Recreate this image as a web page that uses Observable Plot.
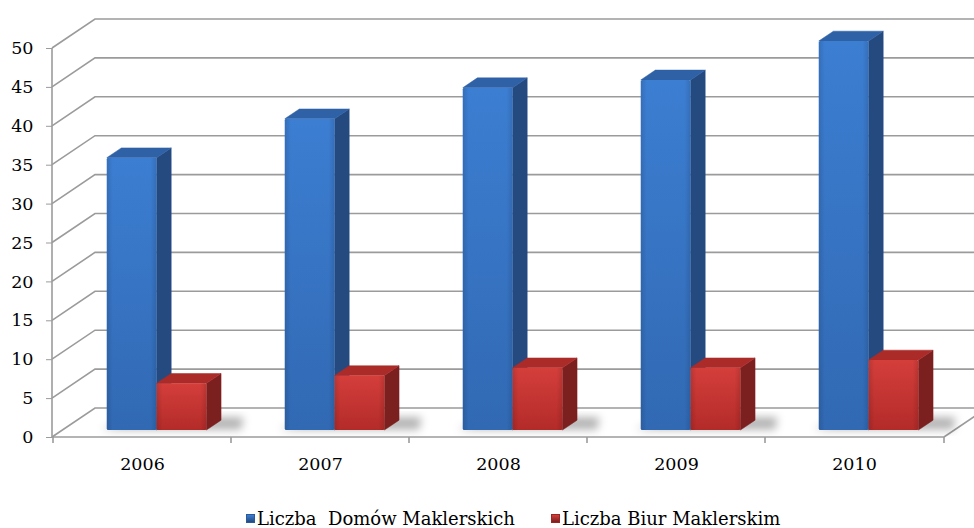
<!DOCTYPE html>
<html>
<head>
<meta charset="utf-8">
<script src="https://cdn.jsdelivr.net/npm/d3@7"></script>
<script src="https://cdn.jsdelivr.net/npm/@observablehq/plot@0.6"></script>
<style>
  html, body { margin: 0; padding: 0; background: #ffffff; }
  #chart { width: 974px; }
  #legend { display: flex; align-items: center; height: 52px; padding-left: 246px;
            font-family: "DejaVu Serif", serif; font-size: 18px; color: #000; }
  .item { display: flex; align-items: center; }
  .sw { width: 9px; height: 9px; margin-right: 2px; box-sizing: border-box; }
</style>
</head>
<body>
<div id="chart"></div>
<div id="legend"></div>
<script>
// ---- data ----
const years = ["2006", "2007", "2008", "2009", "2010"];
const domyMaklerskie = [35, 40, 44, 45, 50];
const biuraMaklerskie = [6, 7, 8, 8, 9];
const seriesNames = ["Liczba  Domów Maklerskich", "Liczba Biur Maklerskim"];
const yTicks = [0, 5, 10, 15, 20, 25, 30, 35, 40, 45, 50];

const seriesValues = [domyMaklerskie, biuraMaklerskie];
const table = [];
years.forEach((yr, i) => seriesValues.forEach((vals, s) => table.push({year: yr, series: s, value: vals[i]})));

// ---- style ----
const depthX = 43, depthY = -29;   // back-wall offset of the 3D box
const f0 = 0.24, f1 = 0.58;        // bar slab depth fractions
const barStart = 0.244, barW = 0.28; // bar placement inside the band
const colors = [
  {front: ["#3c7ed2", "#3169b3"], side: "#244a80", top: "#2e61a6", edge: "#2a5a9a"},
  {front: ["#d43e3b", "#b32b29"], side: "#7c1f1f", top: "#ab2b29", edge: "#9a2624"}
];
const gridColor = "#9b9b9b";

function scene(index, scales) {
  const x = scales.x, y = scales.y;
  const bw = x.bandwidth();
  const [xa, xb] = x.range();
  const y0 = y(0);
  const g = d3.create("svg:g");
  const defs = g.append("defs");
  colors.forEach((c, s) => {
    const lg = defs.append("linearGradient").attr("id", "front" + s).attr("x1", 0).attr("y1", 0).attr("x2", 0).attr("y2", 1);
    lg.append("stop").attr("offset", "0%").attr("stop-color", c.front[0]);
    lg.append("stop").attr("offset", "100%").attr("stop-color", c.front[1]);
    const hg = defs.append("linearGradient").attr("id", "shade" + s).attr("x1", 0).attr("y1", 0).attr("x2", 1).attr("y2", 0);
    hg.append("stop").attr("offset", "0%").attr("stop-color", "#000").attr("stop-opacity", 0.12);
    hg.append("stop").attr("offset", "12%").attr("stop-color", "#000").attr("stop-opacity", 0);
    hg.append("stop").attr("offset", "88%").attr("stop-color", "#000").attr("stop-opacity", 0);
    hg.append("stop").attr("offset", "100%").attr("stop-color", "#000").attr("stop-opacity", 0.12);
  });
  const blur = defs.append("filter").attr("id", "blur").attr("x", "-50%").attr("y", "-50%").attr("width", "200%").attr("height", "200%");
  blur.append("feGaussianBlur").attr("stdDeviation", 4);

  const P = (px, py, f) => [px + depthX * f, py + depthY * f];
  const pts = (arr) => arr.map(p => p.join(",")).join(" ");

  // walls: left-wall diagonals and back-wall gridlines
  for (const t of yTicks) {
    const yy = y(t);
    g.append("polyline").attr("points", pts([[xa, yy], P(xa, yy, 1), P(xb, yy, 1)]))
      .attr("fill", "none").attr("stroke", gridColor).attr("stroke-width", 1.6);
  }
  // floor right edge
  g.append("line").attr("x1", xb).attr("y1", y0).attr("x2", xb + depthX).attr("y2", y0 + depthY)
    .attr("stroke", gridColor).attr("stroke-width", 1.6);
  // front vertical axis line
  g.append("line").attr("x1", xa).attr("y1", y0).attr("x2", xa).attr("y2", y(d3.max(yTicks)))
    .attr("stroke", gridColor).attr("stroke-width", 1.6);
  // front floor line
  g.append("line").attr("x1", xa).attr("y1", y0).attr("x2", xb).attr("y2", y0)
    .attr("stroke", gridColor).attr("stroke-width", 1.6);
  // category boundary ticks
  const bounds = years.map(d => x(d)).concat([xb]);
  for (const bx of bounds) {
    g.append("line").attr("x1", bx).attr("y1", y0).attr("x2", bx).attr("y2", y0 + 6)
      .attr("stroke", gridColor).attr("stroke-width", 1.6);
  }

  // floor shadows
  years.forEach(yr => {
    const l = x(yr) + bw * barStart, r = l + 2 * bw * barW;
    g.append("polygon").attr("points", pts([P(l - 6, y0, f0 + 0.02), P(r + 34, y0, f0 + 0.02), P(r + 18, y0, f1 + 0.1), P(l + 10, y0, f1 + 0.1)]))
      .attr("fill", "#000").attr("fill-opacity", 0.3).attr("filter", "url(#blur)");
  });

  // bars
  for (const d of table) {
    const c = colors[d.series];
    const l = x(d.year) + bw * (barStart + barW * d.series), r = l + bw * barW;
    const yt = y(d.value);
    // side face
    g.append("polygon").attr("points", pts([P(r, yt, f0), P(r, yt, f1), P(r, y0, f1), P(r, y0, f0)]))
      .attr("fill", c.side).attr("stroke", c.side).attr("stroke-width", 0.5).attr("stroke-linejoin", "round");
    // top face
    g.append("polygon").attr("points", pts([P(l, yt, f0), P(r, yt, f0), P(r, yt, f1), P(l, yt, f1)]))
      .attr("fill", c.top).attr("stroke", c.top).attr("stroke-width", 0.5).attr("stroke-linejoin", "round");
    // front face
    const [fx, fy] = P(l, yt, f0);
    g.append("rect").attr("x", fx).attr("y", fy).attr("width", r - l).attr("height", y0 - yt)
      .attr("fill", `url(#front${d.series})`).attr("rx", 1.5);
    g.append("rect").attr("x", fx).attr("y", fy).attr("width", r - l).attr("height", y0 - yt)
      .attr("fill", `url(#shade${d.series})`).attr("rx", 1.5);
  }
  return g.node();
}

const chart = Plot.plot({
  width: 974,
  height: 492,
  marginLeft: 52,
  marginRight: 30,
  marginTop: 48,
  marginBottom: 55,
  style: {fontFamily: "'DejaVu Serif', serif", fontSize: "17.5px", color: "#000", background: "#fff"},
  x: {domain: years, padding: 0, label: null, tickSize: 0, tickPadding: 20},
  y: {domain: [0, 50], ticks: yTicks, label: null, tickSize: 6, tickPadding: 13, tickFormat: d => String(d)},
  marks: [
    Plot.barY(table, {x: "year", y: "value", fillOpacity: 0, strokeOpacity: 0}),
    scene
  ]
});
chart.querySelectorAll("[aria-label='y-axis'] line, [aria-label='y-axis tick']").forEach(n => n.setAttribute("stroke", gridColor));
document.getElementById("chart").appendChild(chart);

// legend (HTML, below the SVG)
const legend = d3.select("#legend");
seriesNames.forEach((name, s) => {
  const it = legend.append("div").attr("class", "item");
  if (s === 0) it.style("width", "305px");
  it.append("div").attr("class", "sw")
    .style("background", `linear-gradient(to bottom, ${colors[s].front[0]}, ${colors[s].side})`)
    .style("border", `1px solid ${colors[s].edge}`);
  it.append("span").text(name).style("white-space", "pre");
});
</script>
</body>
</html>
